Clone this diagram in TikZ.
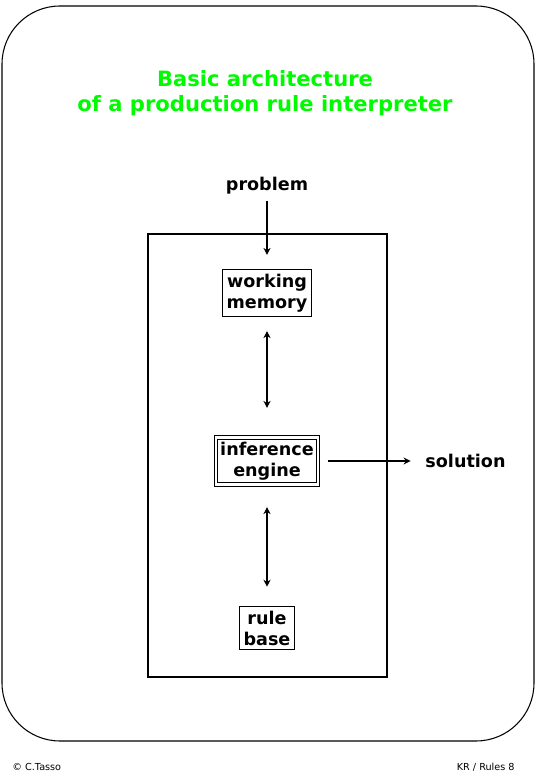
\documentclass[tikz,border=0pt]{standalone}
\usepackage{fontspec}
\setmainfont{DejaVu Sans}
\usetikzlibrary{arrows.meta,positioning}
\definecolor{titlegreen}{RGB}{0,250,0}

\tikzset{
    box/.style={draw,align=center,inner sep=2.5pt},
    flow/.style={-{Stealth[length=4pt,width=4pt]}},
    link/.style={{Stealth[length=4pt,width=4pt]}-{Stealth[length=4pt,width=4pt]}}
}

\begin{document}
\begin{tikzpicture}[node distance=2.14cm,on grid,font=\bfseries,line width=0.6pt]
    \useasboundingbox (0,0) rectangle (10.72,15.58);
    \draw[rounded corners=1.16cm] (0.04,0.76) rectangle (10.68,15.46);

    \node[text=titlegreen,font=\fontsize{12}{14.2}\selectfont\bfseries,align=center] (T) at (5.30,13.71) {Basic architecture\\of a production rule interpreter};

    \node[draw,minimum width=4.78cm,minimum height=8.86cm] (S) at (5.35,6.47) {};
    \node (P) at (5.34,11.86) {problem};
    \node[box,below=of P] (W) {working\\memory};
    \node[box,double,double distance=1.2pt,below=3.36cm of W] (E) {inference\\engine};
    \node[box,below=3.34cm of E] (R) {rule\\base};
    \node[right=3.97cm of E] (O) {solution};

    \draw[flow,shorten >=0.28cm] (P) -- (W);
    \draw[link,shorten <=0.28cm,shorten >=0.58cm] (W) -- (E);
    \draw[link,shorten <=0.44cm,shorten >=0.38cm] (E) -- (R);
    \draw[flow,shorten <=0.18cm,shorten >=0.17cm] (E) -- (O);

    \node[font=\fontsize{5.5}{6}\selectfont,anchor=west] (C) at (0.12,0.24) {© C.Tasso};
    \node[font=\fontsize{5.5}{6}\selectfont,anchor=east] (K) at (10.42,0.24) {KR / Rules 8};
\end{tikzpicture}
\end{document}
